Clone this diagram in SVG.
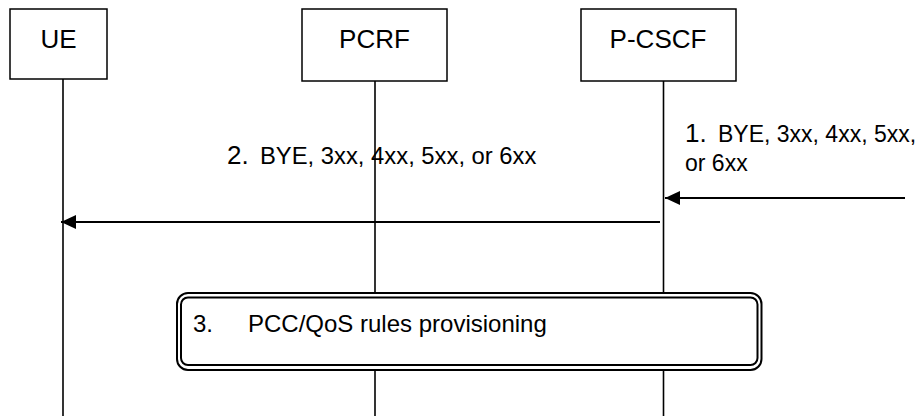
<svg xmlns="http://www.w3.org/2000/svg" width="923" height="416" viewBox="0 0 923 416">
<style>
.box{fill:#fff;stroke:#000;stroke-width:1.5}
.lbl{font-family:"Liberation Sans",Arial,sans-serif;font-size:26px;fill:#000}
.life{stroke:#000;stroke-width:1.6;fill:none}
.msg{stroke:#000;stroke-width:2;fill:none}
.txt{font-family:"Liberation Sans",Arial,sans-serif;font-size:23px;fill:#000}
.num{font-size:26px}
.proc{fill:#fff;stroke:#000;stroke-width:2}
</style>
<defs>
<marker id="ah" markerWidth="16" markerHeight="14" refX="15" refY="7" orient="auto" markerUnits="userSpaceOnUse">
<path d="M0,0 L15,7 L0,14 Z" fill="#000"/>
</marker>
</defs>
<g id="lifelines">
<line class="life" x1="63" y1="79" x2="63" y2="416"/>
<line class="life" x1="375" y1="81" x2="375" y2="293"/>
<line class="life" x1="375" y1="370" x2="375" y2="416"/>
<line class="life" x1="663.5" y1="81" x2="663.5" y2="293"/>
<line class="life" x1="663.5" y1="370" x2="663.5" y2="416"/>
</g>
<g id="UE">
<rect class="box" x="10" y="9" width="97" height="70"/>
<text class="lbl" x="58.5" y="48" text-anchor="middle">UE</text>
</g>
<g id="PCRF">
<rect class="box" x="302" y="9" width="145" height="72"/>
<text class="lbl" x="374.5" y="48" text-anchor="middle">PCRF</text>
</g>
<g id="P-CSCF">
<rect class="box" x="581" y="9" width="155" height="72"/>
<text class="lbl" x="658" y="48" text-anchor="middle">P-CSCF</text>
</g>
<g id="connectors">
<line class="msg" x1="905" y1="198" x2="665" y2="198" marker-end="url(#ah)"/>
<line class="msg" x1="660" y1="222" x2="61" y2="222" marker-end="url(#ah)"/>
</g>
<g id="msg1-label">
<text class="txt"><tspan class="num" x="685" y="142">1.</tspan><tspan x="718" y="142">BYE, 3xx, 4xx, 5xx,</tspan><tspan x="685" y="171">or 6xx</tspan></text>
</g>
<g id="msg2-label">
<text class="txt" style="font-size:23.8px"><tspan class="num" x="227" y="164">2.</tspan><tspan x="260" y="164">BYE, 3xx, 4xx, 5xx, or 6xx</tspan></text>
</g>
<g id="step3">
<rect class="proc" x="177" y="293" width="584.5" height="77" rx="11" ry="11"/>
<rect class="proc" x="181" y="297.5" width="576.5" height="67.5" rx="7" ry="7"/>
<text class="txt" style="font-size:24px" x="193" y="332">3.</text>
<text class="txt" style="font-size:24px" x="248" y="332">PCC/QoS rules provisioning</text>
</g>
</svg>
